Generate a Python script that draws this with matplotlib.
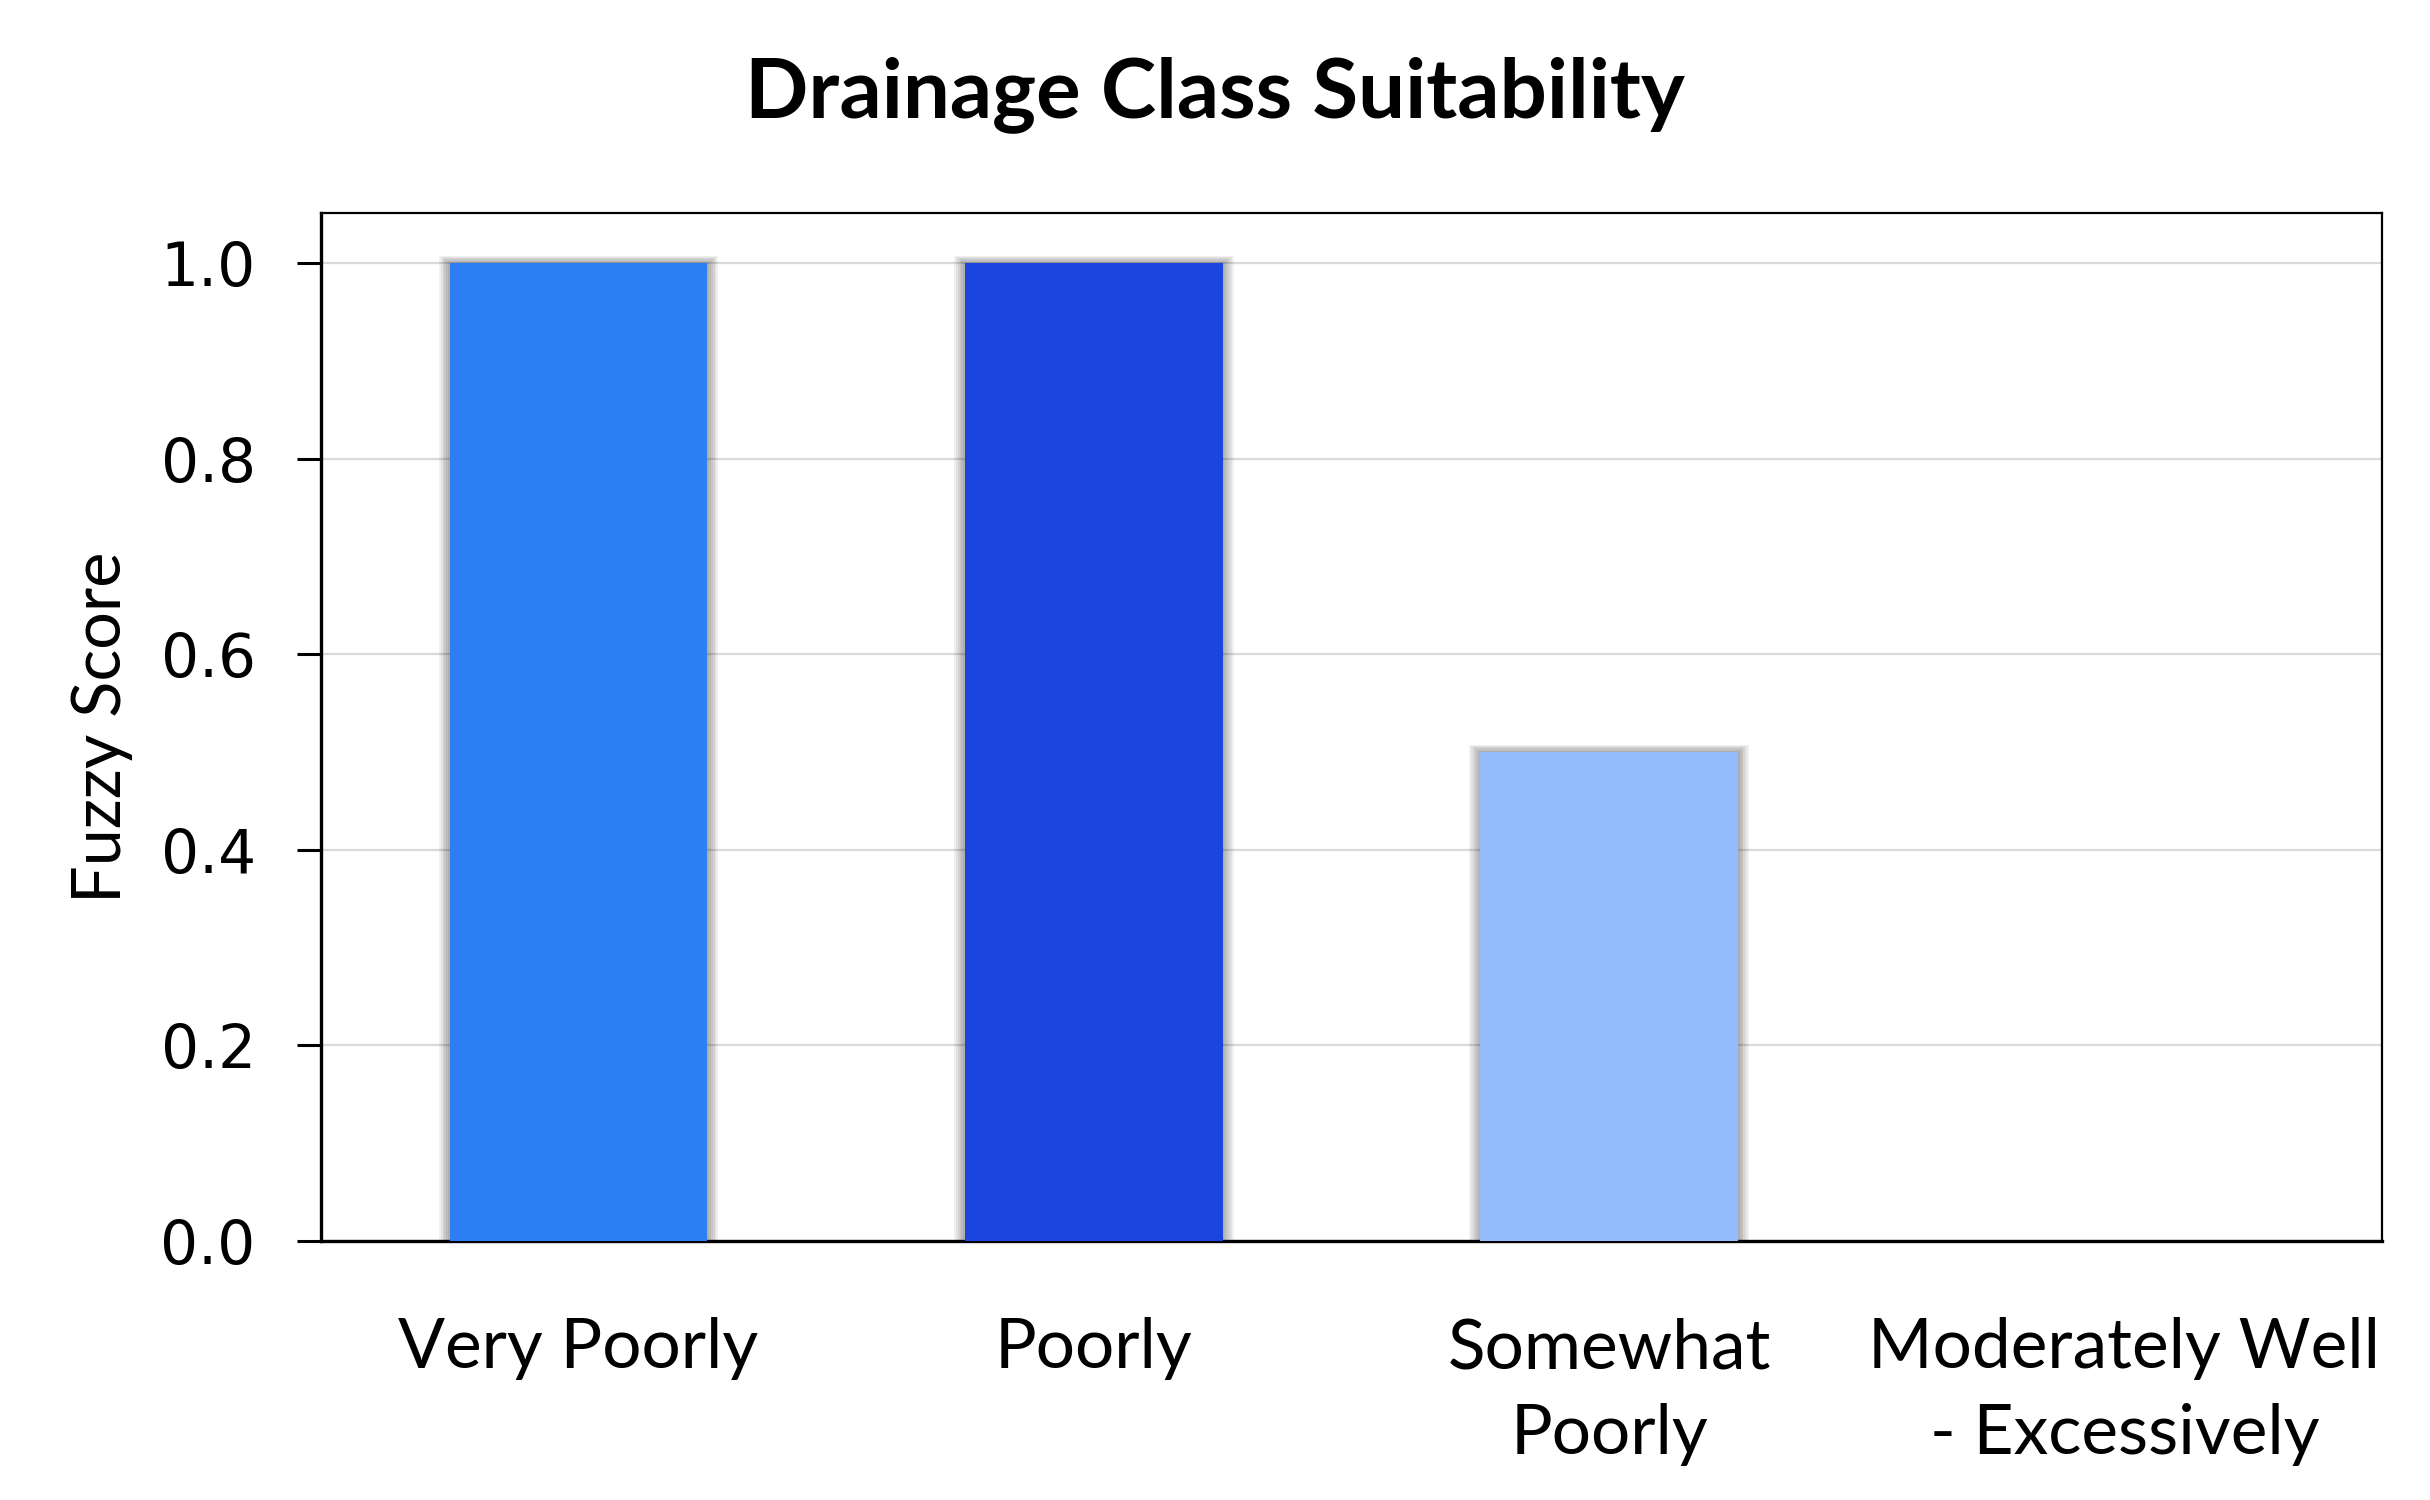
import matplotlib
matplotlib.use("Agg")
import matplotlib.pyplot as plt
import numpy as np

categories = ["Very Poorly", "Poorly", "Somewhat\nPoorly", "Moderately Well\n- Excessively"]
scores = [1.0, 1.0, 0.5, 0.0]
colors = ["#2C7EF2", "#1A45DE", "#93BCFC", "#93BCFC"]
yticks = [0.0, 0.2, 0.4, 0.6, 0.8, 1.0]

fig = plt.figure(figsize=(24.3, 15), dpi=100)
ax = fig.add_axes([321/2430, 1 - 1241/1500, (2382-321)/2430, (1241-213)/1500])

x = np.arange(len(categories))
bw = 0.5
# soft shadow
for k in range(1, 7):
    ax.bar(x, [s + 0.0012*k if s > 0 else 0 for s in scores], width=bw + 0.007*k,
           color="black", alpha=0.06, linewidth=0, zorder=2)
ax.bar(x, scores, width=bw, color=colors, linewidth=0, zorder=3)

ax.set_xlim(-0.5, 3.5)
ax.set_ylim(0, 1.051)
ax.set_yticks(yticks)
ax.set_yticklabels([f"{v:.1f}" for v in yticks], fontsize=43, family="DejaVu Sans")
ax.set_xticks(x)
ax.set_xticklabels(categories, fontsize=50, family="Lato", linespacing=1.45)
ax.tick_params(axis="x", length=0, pad=55)
ax.tick_params(axis="y", length=17, width=2.2, pad=30)
ax.yaxis.grid(True, color="#d9d9d9", linewidth=1.6, zorder=0)
ax.set_axisbelow(True)
for sp in ax.spines.values():
    sp.set_linewidth(1.6)
ax.spines["left"].set_linewidth(2.4)
ax.spines["bottom"].set_linewidth(2.4)
ax.set_ylabel("Fuzzy Score", fontsize=48, family="Lato", labelpad=20)
fig.text(1215/2430, 1 - 95/1500, "Drainage Class Suitability", ha="center", va="center",
         fontsize=60, fontweight="bold", family="Lato")

fig.savefig("out.png", dpi=100, facecolor="white")
